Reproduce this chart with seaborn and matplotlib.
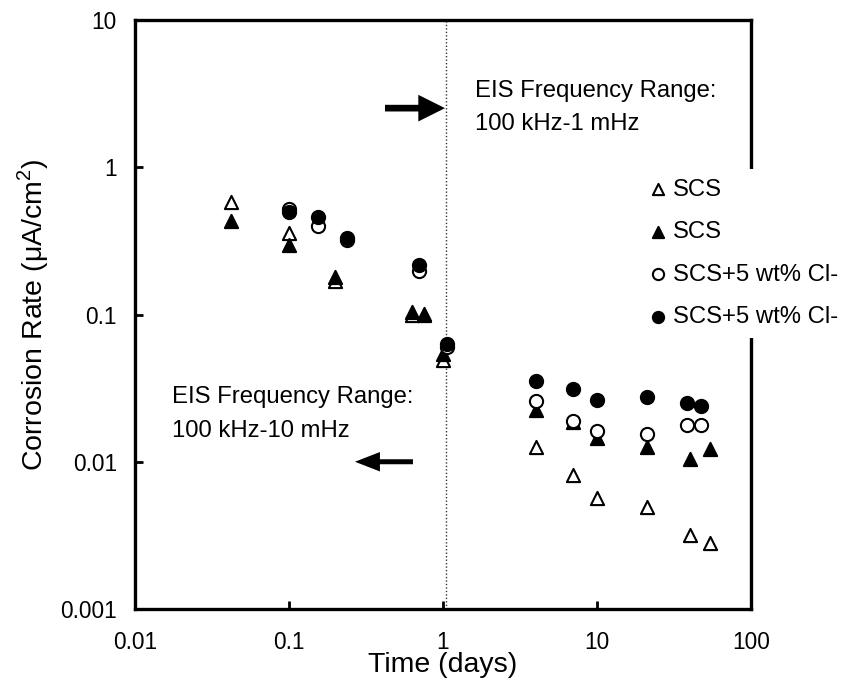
import numpy as np
import pandas as pd
import seaborn as sns
import matplotlib.pyplot as plt
from matplotlib.ticker import FixedLocator, FixedFormatter, NullLocator

# data (time in days, corrosion rate in uA/cm2)
tri_days = [0.042, 0.1, 0.2, 0.63, 0.75, 1.0, 4, 7, 10, 21, 40, 54]
tri_open_rate = [0.58, 0.36, 0.17, 0.10, 0.10, 0.049, 0.0125, 0.0081, 0.0057, 0.0049, 0.0032, 0.0028]
tri_fill_rate = [0.43, 0.295, 0.18, 0.104, 0.101, 0.054, 0.0224, 0.0186, 0.0146, 0.0125, 0.0104, 0.0123]

circ_days = [0.1, 0.155, 0.237, 0.70, 1.06, 4, 7, 10, 21, 38.6, 47]
circ_open_rate = [0.52, 0.40, 0.32, 0.198, 0.060, 0.0259, 0.019, 0.0162, 0.0154, 0.0179, 0.0179]
circ_fill_rate = [0.50, 0.46, 0.33, 0.216, 0.0635, 0.0352, 0.0314, 0.0264, 0.0276, 0.0251, 0.0238]

series_labels = ['SCS', 'SCS', 'SCS+5 wt% Cl-', 'SCS+5 wt% Cl-']
x_ticks = [0.01, 0.1, 1, 10, 100]
x_ticklabels = ['0.01', '0.1', '1', '10', '100']
y_ticks = [0.001, 0.01, 0.1, 1, 10]
y_ticklabels = ['0.001', '0.01', '0.1', '1', '10']

sns.set_style('ticks')
plt.rcParams['font.family'] = ['Liberation Sans', 'DejaVu Sans']
plt.rcParams['mathtext.fontset'] = 'custom'
plt.rcParams['mathtext.rm'] = 'Liberation Sans'
plt.rcParams['text.color'] = 'black'
plt.rcParams['axes.labelcolor'] = 'black'
plt.rcParams['xtick.color'] = 'black'
plt.rcParams['ytick.color'] = 'black'

fig = plt.figure(figsize=(8.47, 6.91), dpi=100)
ax = fig.add_axes([135 / 847, 1 - 609 / 691, 616 / 847, 589 / 691])

series = [
    (tri_days, tri_open_rate, '^', 'white'),
    (tri_days, tri_fill_rate, '^', 'black'),
    (circ_days, circ_open_rate, 'o', 'white'),
    (circ_days, circ_fill_rate, 'o', 'black'),
]
for (xs, ys, mk, fc), lab in zip(series, series_labels):
    df = pd.DataFrame({'days': xs, 'rate': ys})
    sns.scatterplot(data=df, x='days', y='rate', marker=mk, s=90, color=fc,
                    edgecolor='black', linewidth=1.5, label=lab, ax=ax, zorder=3)

ax.set_xscale('log')
ax.set_yscale('log')
ax.set_xlim(0.01, 100)
ax.set_ylim(0.001, 10)
ax.xaxis.set_major_locator(FixedLocator(x_ticks))
ax.xaxis.set_major_formatter(FixedFormatter(x_ticklabels))
ax.yaxis.set_major_locator(FixedLocator(y_ticks))
ax.yaxis.set_major_formatter(FixedFormatter(y_ticklabels))
ax.xaxis.set_minor_locator(NullLocator())
ax.yaxis.set_minor_locator(NullLocator())
ax.tick_params(direction='in', length=6, width=2, labelsize=16.3)
ax.tick_params(axis='x', pad=16)
ax.tick_params(axis='y', pad=13)
for sp in ax.spines.values():
    sp.set_linewidth(2.4)
    sp.set_color('black')

ax.set_xlabel('Time (days)', fontsize=20.5)
ax.set_ylabel('Corrosion Rate (\u03bcA/cm$^\\mathregular{2}$)', fontsize=20.5)
ax.xaxis.set_label_coords(0.5, -0.073)
ax.yaxis.set_label_coords(-0.137, 0.5)

# dotted divider and annotations
note_size = 17.2
ax.axvline(1.046, color='#333333', lw=1, ls=(0, (1, 1.5)), zorder=1)
ax.text(1.61, 3.0, 'EIS Frequency Range:', fontsize=note_size, va='baseline')
ax.text(1.61, 1.78, '100 kHz-1 mHz', fontsize=note_size, va='baseline')
ax.text(0.0174, 0.025, 'EIS Frequency Range:', fontsize=note_size, va='baseline')
ax.text(0.0174, 0.01466, '100 kHz-10 mHz', fontsize=note_size, va='baseline')
ax.annotate('', xy=(1.03, 2.52), xytext=(0.42, 2.52),
            arrowprops=dict(arrowstyle='simple,head_length=0.96,head_width=0.96,tail_width=0.24',
                            fc='black', ec='black', lw=0, mutation_scale=20,
                            shrinkA=0, shrinkB=0))
ax.annotate('', xy=(0.268, 0.01), xytext=(0.638, 0.01),
            arrowprops=dict(arrowstyle='simple,head_length=0.9,head_width=0.7,tail_width=0.18',
                            fc='black', ec='black', lw=0, mutation_scale=20,
                            shrinkA=0, shrinkB=0))

leg = ax.legend(loc='upper left', bbox_to_anchor=(0.7554, 0.7555),
                bbox_transform=fig.transFigure, borderaxespad=0, fontsize=note_size,
                frameon=True, fancybox=False, framealpha=1, facecolor='white',
                edgecolor='none', handlelength=0.7, handletextpad=0.27,
                labelspacing=0.86, borderpad=0.4, scatterpoints=1, markerscale=0.85)

fig.savefig('out.png', dpi=100)
